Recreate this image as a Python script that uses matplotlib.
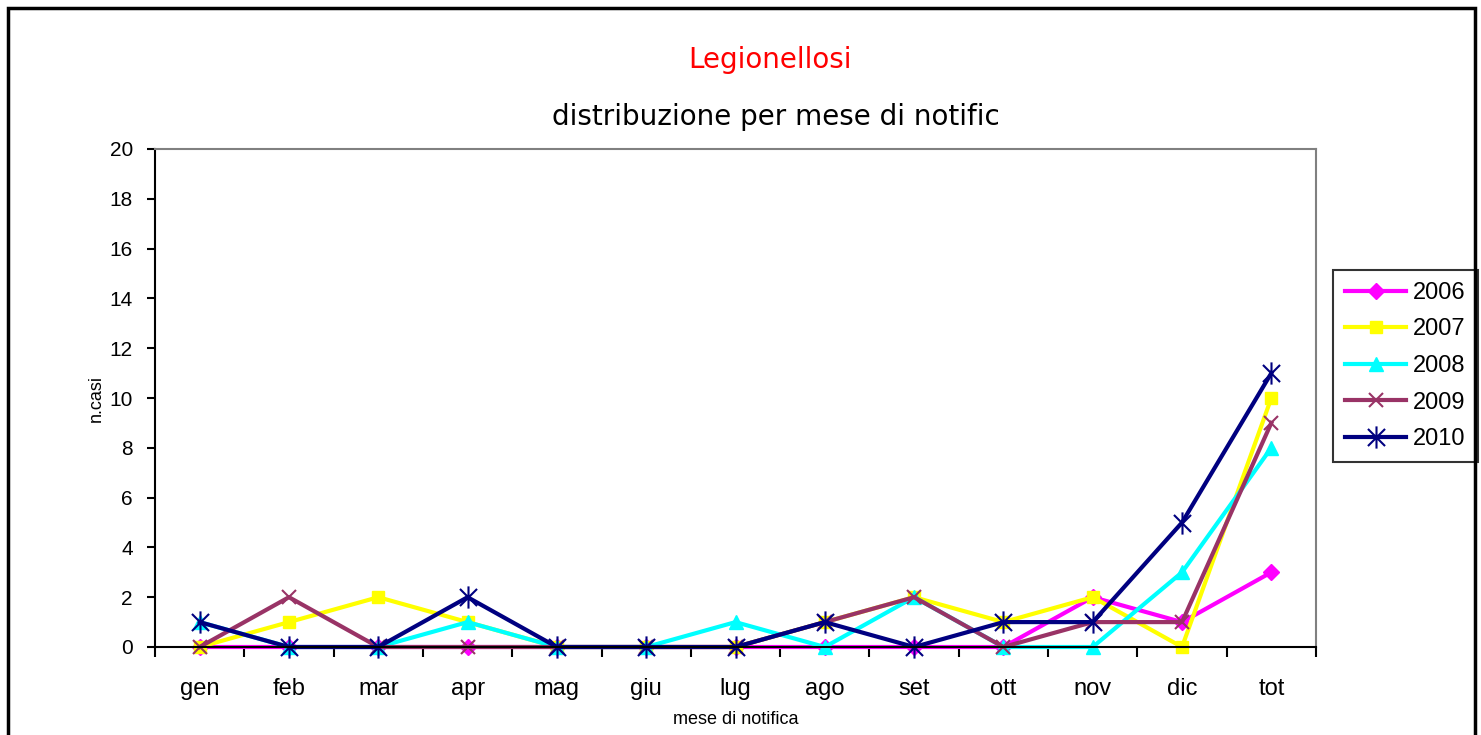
import numpy as np
import matplotlib.pyplot as plt
from matplotlib.path import Path
from matplotlib.patches import Rectangle

plt.rcParams['font.family'] = ['Liberation Sans', 'DejaVu Sans']

mesi = ["gen", "feb", "mar", "apr", "mag", "giu", "lug", "ago", "set", "ott", "nov", "dic", "tot"]
anni = ["2006", "2007", "2008", "2009", "2010"]
casi_2006 = [0, 0, 0, 0, 0, 0, 0, 0, 0, 0, 2, 1, 3]
casi_2007 = [0, 1, 2, 1, 0, 0, 0, 1, 2, 1, 2, 0, 10]
casi_2008 = [1, 0, 0, 1, 0, 0, 1, 0, 2, 0, 0, 3, 8]
casi_2009 = [0, 2, 0, 0, 0, 0, 0, 1, 2, 0, 1, 1, 9]
casi_2010 = [1, 0, 0, 2, 0, 0, 0, 1, 0, 1, 1, 5, 11]

# asterisk like the Excel "star" marker: X plus vertical bar
star = Path([(-1, -1), (1, 1), (-1, 1), (1, -1), (0, -1.3), (0, 1.3)],
            [Path.MOVETO, Path.LINETO, Path.MOVETO, Path.LINETO, Path.MOVETO, Path.LINETO])

serie = [
    (casi_2006, "#ff00ff", "D", 8),
    (casi_2007, "#ffff00", "s", 8),
    (casi_2008, "#00ffff", "^", 10),
    (casi_2009, "#993366", "x", 10),
    (casi_2010, "#000080", star, 16),
]

fig = plt.figure(figsize=(14.81, 7.35), dpi=100)
ax = fig.add_axes([155 / 1481, 1 - 647 / 735, (1316 - 155) / 1481, (647 - 149) / 735])

x = np.arange(len(mesi))
for (vals, col, mk, ms), anno in zip(serie, anni):
    ax.plot(x, vals, color=col, lw=3, marker=mk, markersize=ms, label=anno,
            markeredgewidth=1.5 if (mk == "x" or mk is star) else 1,
            markerfacecolor=col, markeredgecolor=col, clip_on=False)

ax.set_xlim(-0.5, 12.5)
ax.set_ylim(0, 20)
ax.set_yticks(range(0, 21, 2))
ax.set_xticks(x)
ax.set_xticklabels(mesi, fontsize=17)
ax.set_xticks(np.arange(-0.5, 13, 1), minor=True)
ax.tick_params(axis="x", which="major", length=0, pad=22)
ax.tick_params(axis="x", which="minor", length=7, width=1.5, direction="out")
ax.tick_params(axis="y", length=6, width=1.5, direction="out", labelsize=15, pad=10)

for s in ("top", "right"):
    ax.spines[s].set_color("#808080")
    ax.spines[s].set_linewidth(1.5)
for s in ("left", "bottom"):
    ax.spines[s].set_color("black")
    ax.spines[s].set_linewidth(1.5)

ax.set_ylabel("n.casi", fontsize=13, labelpad=3)
ax.set_xlabel("mese di notifica", fontsize=13, labelpad=8)

fig.text(0.52, 1 - 60 / 735, "Legionellosi", color="red", fontsize=20, ha="center", va="center",
         family="DejaVu Sans")
fig.text(0.524, 1 - 117 / 735, "distribuzione per mese di notific", color="black",
         fontsize=20, ha="center", va="center", family="DejaVu Sans")

leg = ax.legend(loc="upper left", bbox_to_anchor=(1333 / 1481, 1 - 270 / 735),
                bbox_transform=fig.transFigure, fontsize=17, frameon=True, fancybox=False,
                edgecolor="black", handlelength=2.6, labelspacing=0.62, borderpad=0.5,
                handletextpad=0.3, borderaxespad=0)
leg.get_frame().set_linewidth(1.5)

fig.patches.append(Rectangle((8 / 1481, -0.1), (1475 - 8) / 1481, 1.1 - 8 / 735,
                             transform=fig.transFigure, fill=False, edgecolor="black",
                             linewidth=2.5))

fig.savefig("out.png", dpi=100)
